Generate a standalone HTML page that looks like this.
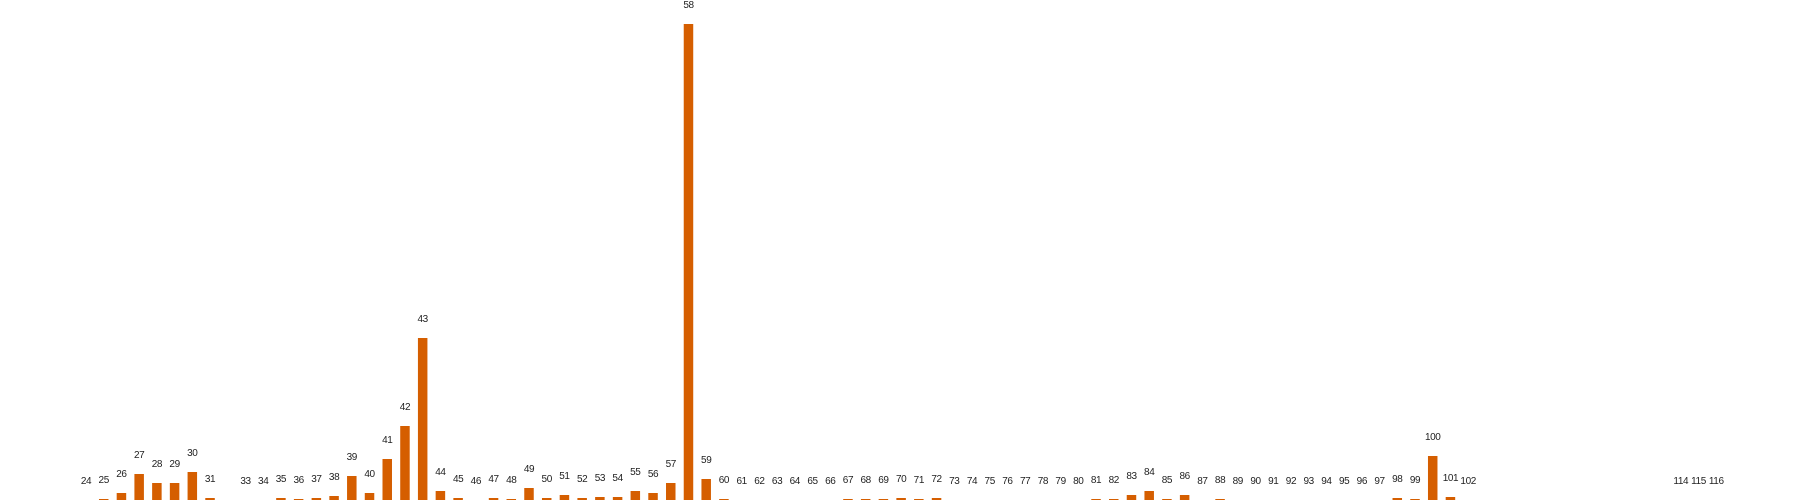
<!DOCTYPE html>
<html><head><meta charset="utf-8"><style>
html,body{margin:0;padding:0;background:#fff;}
svg{display:block;}
text{font-family:"Liberation Sans","DejaVu Sans",sans-serif;font-size:10px;letter-spacing:-0.4px;fill:#222;}
</style></head><body>
<svg id="chart" width="1800" height="500" viewBox="0 0 1800 500"></svg>
<script>
const categories = [];
for (let c = 24; c <= 116; c++) categories.push(c);
const values = [0,1,7,26,17,17,28,2,null,0,0,2,1,2,4,24,7,41,74,162,9,2,0,2,1,12,2,
5,2,3,3,9,7,17,476,21,1,0,0,0,0,0,0,1,1,1,2,1,2,0,0,0,0,0,0,0,0,1,1,5,9,
1,5,0,1,0,0,0,0,0,0,0,0,0,2,1,44,3,0,
null,null,null,null,null,null,null,null,null,null,null,0,0,0];
const labels = categories.map(String);

const svg = document.getElementById('chart');
const NS = 'http://www.w3.org/2000/svg';
const x0 = 86, step = 17.72, baseY = 500, pxPerUnit = 1.0, barW = 9.5;
const xScale = i => x0 + i * step;
const yScale = v => baseY - v * pxPerUnit;

categories.forEach((c, i) => {
  const v = values[i];
  if (v === null || v === undefined) return;
  const cx = xScale(i);
  if (v > 0) {
    const r = document.createElementNS(NS, 'rect');
    
    
    r.setAttribute('x', cx - barW / 2);
    r.setAttribute('y', yScale(v));
    r.setAttribute('width', barW);
    r.setAttribute('height', baseY - yScale(v));
    r.setAttribute('fill', '#d55e00');
    svg.appendChild(r);
  }
  const t = document.createElementNS(NS, 'text');
  
  
  t.setAttribute('x', cx);
  t.setAttribute('y', yScale(v) - 16);
  t.setAttribute('text-anchor', 'middle');
  t.textContent = labels[i];
  svg.appendChild(t);
});
</script>
</body></html>
